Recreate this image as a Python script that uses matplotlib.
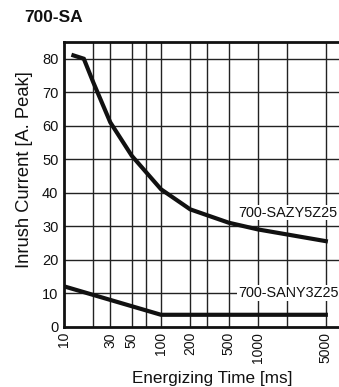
import matplotlib
matplotlib.use("Agg")
import matplotlib.pyplot as plt

plt.rcParams['font.family'] = ['Liberation Sans', 'DejaVu Sans']

# Data
zy_time = [12.5, 16, 20, 30, 50, 100, 200, 500, 1000, 5000]
zy_current = [81, 80, 73, 61, 51, 41, 35, 31, 29, 25.5]
ny_time = [10, 100, 5000]
ny_current = [12, 3.5, 3.5]
grid_x = [20, 30, 50, 70, 100, 200, 300, 500, 1000, 2000, 5000]
xtick_vals = [10, 30, 50, 100, 200, 500, 1000, 5000]
xtick_labels = ['10', '30', '50', '100', '200', '500', '1000', '5000']
ytick_vals = [0, 10, 20, 30, 40, 50, 60, 70, 80]
title = '700-SA'
series_labels = ['700-SAZY5Z25', '700-SANY3Z25']

fig = plt.figure(figsize=(3.39, 3.87), dpi=100)
W, H = 339, 387
left, right, top, bottom = 64, 340, 42, 326.5
ax = fig.add_axes([left / W, 1 - bottom / H, (right - left) / W, (bottom - top) / H])
ax.set_xscale('log')
ax.set_xlim(10, 7000)
ax.set_ylim(0, 85)

for gx in grid_x:
    ax.axvline(gx, color='#222222', lw=1.0, zorder=1)
for gy in ytick_vals[1:]:
    ax.axhline(gy, color='#222222', lw=1.0, zorder=1)

ax.plot(zy_time, zy_current, color='#111111', lw=3.0, solid_joinstyle='miter', zorder=3)
ax.plot(ny_time, ny_current, color='#111111', lw=3.0, solid_joinstyle='miter', zorder=3)

ax.text(620, 34, series_labels[0], fontsize=10.4, ha='left', va='center', color='#111111',
        bbox=dict(facecolor='white', edgecolor='none', pad=0.5), zorder=4)
ax.text(620, 10, series_labels[1], fontsize=10.4, ha='left', va='center', color='#111111',
        bbox=dict(facecolor='white', edgecolor='none', pad=0.5), zorder=4)

ax.set_xticks(xtick_vals)
ax.set_xticklabels(xtick_labels, rotation=90, fontsize=10)
ax.xaxis.set_minor_locator(matplotlib.ticker.NullLocator())
ax.set_yticks(ytick_vals)
ax.set_yticklabels([str(v) for v in ytick_vals], fontsize=10.5)
ax.tick_params(length=0, pad=4, colors='#111111')

for s in ax.spines.values():
    s.set_linewidth(2.0)
    s.set_color('#111111')

ax.set_xlabel('Energizing Time [ms]', fontsize=12.3, color='#111111', va='center')
ax.xaxis.set_label_coords((212 - left) / (right - left), -(378 - bottom) / (bottom - top))
ax.set_ylabel('Inrush Current [A. Peak]', fontsize=13.2, color='#111111', va='center')
ax.yaxis.set_label_coords(-(left - 25) / (right - left), (bottom - 170) / (bottom - top))

fig.text(24 / W, 1 - 18 / H, title, fontsize=12.5, fontweight='bold', ha='left', va='center', color='#111111')

fig.savefig('out.png', dpi=100)
